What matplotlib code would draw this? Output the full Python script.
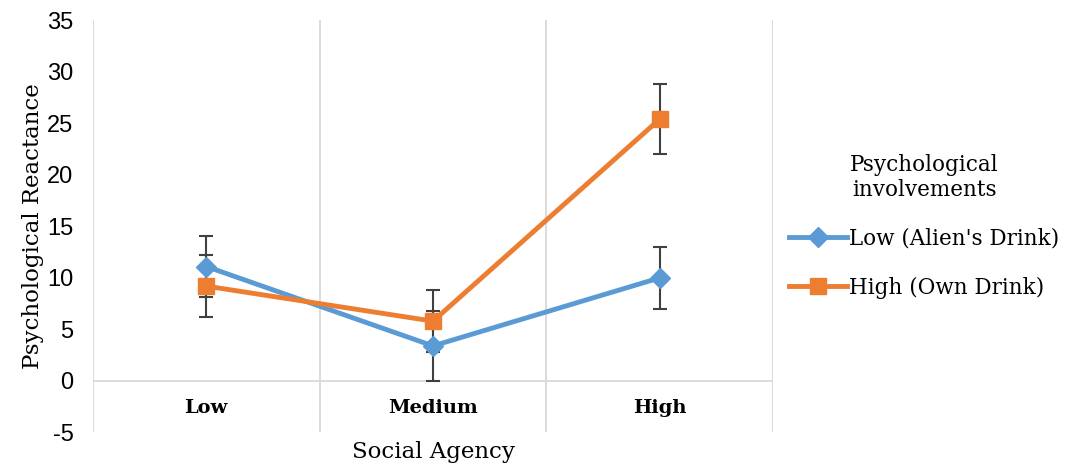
import matplotlib
matplotlib.use('Agg')
import matplotlib.pyplot as plt
import numpy as np

plt.rcParams['axes.unicode_minus'] = False

# data
categories = ["Low", "Medium", "High"]
low_alien = [11.1, 3.4, 10.0]
low_alien_err = [3.0, 3.4, 3.0]
high_own = [9.2, 5.8, 25.4]
high_own_err = [3.0, 3.0, 3.4]
series_names = ["Low (Alien's Drink)", "High (Own Drink)"]

blue = "#5B9BD5"
orange = "#ED7D31"
grid_col = "#D9D9D9"
err_col = "#404040"

fig = plt.figure(figsize=(10.66, 4.68), dpi=100)
ax = fig.add_axes([0.0872, 0.0759, 0.638, 0.881])

x = np.arange(len(categories))

ax.errorbar(x, low_alien, yerr=low_alien_err, fmt='none', ecolor=err_col,
            elinewidth=1.5, capsize=5, capthick=1.5, zorder=2)
ax.errorbar(x, high_own, yerr=high_own_err, fmt='none', ecolor=err_col,
            elinewidth=1.5, capsize=5, capthick=1.5, zorder=2)
ax.plot(x, low_alien, color=blue, lw=3.5, marker='D', ms=10, label=series_names[0], zorder=3)
ax.plot(x, high_own, color=orange, lw=3.5, marker='s', ms=11, label=series_names[1], zorder=4)

ax.set_xlim(-0.5, len(categories) - 0.5)
ax.set_ylim(-5, 35)
ax.set_yticks(np.arange(-5, 36, 5))
ax.set_xticks(x)
ax.set_xticklabels(categories, fontfamily='DejaVu Serif', fontweight='bold', fontsize=14)

for b in np.arange(-0.5, len(categories), 1.0):
    ax.axvline(b, color=grid_col, lw=1.3, zorder=0)
ax.axhline(0, color=grid_col, lw=1.3, zorder=0)

for s in ax.spines.values():
    s.set_visible(False)
ax.tick_params(axis='both', length=0)
ax.tick_params(axis='y', labelsize=17, pad=14)
for lab in ax.get_yticklabels():
    lab.set_fontfamily('Liberation Sans')
# x labels sit at y ~ -2.5
ax.tick_params(axis='x', pad=-24)

ax.set_ylabel("Psychological Reactance", fontfamily='DejaVu Serif', fontsize=16.5, labelpad=2)
ax.set_xlabel("Social Agency", fontfamily='DejaVu Serif', fontsize=16.5, labelpad=6)

leg = ax.legend(loc='center left', bbox_to_anchor=(0.995, 0.50), frameon=False,
                title="Psychological\ninvolvements", handlelength=2.7,
                prop={'family': 'DejaVu Serif', 'size': 15.5},
                title_fontproperties={'family': 'DejaVu Serif', 'size': 15.5},
                labelspacing=1.25, handletextpad=0.1, alignment='center')
leg.get_title().set_multialignment('center')

fig.savefig("out.png", dpi=100)
